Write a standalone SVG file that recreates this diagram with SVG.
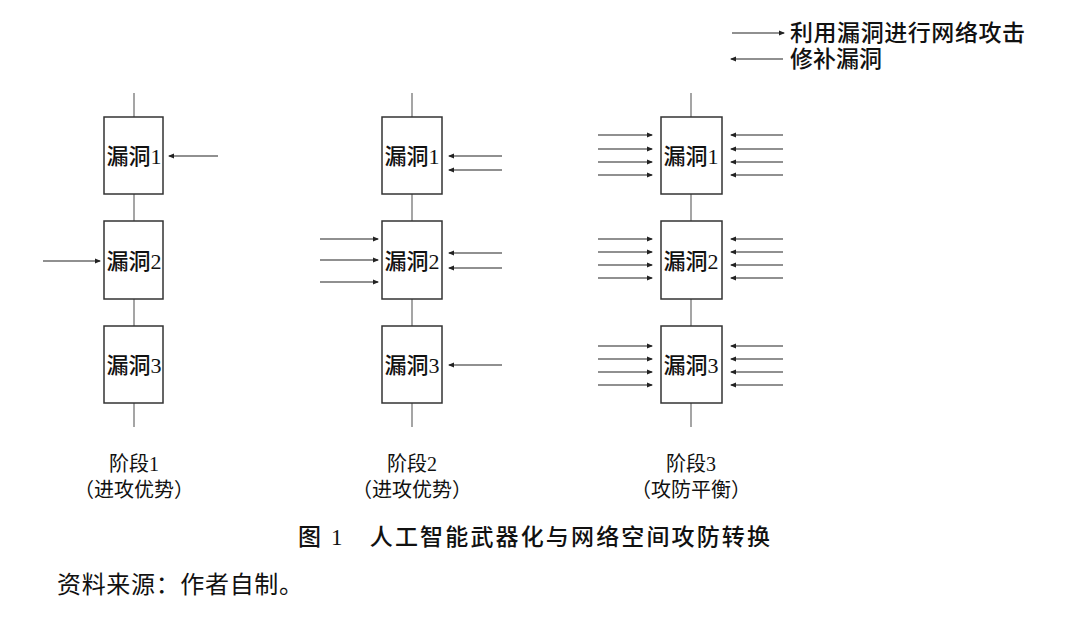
<svg xmlns="http://www.w3.org/2000/svg" width="1080" height="618" viewBox="0 0 1080 618">
<style>
text{font-family:"Liberation Serif","Noto Sans CJK SC",serif;fill:#111}
.box{fill:#fff;stroke:#333;stroke-width:1.5}
.v{stroke:#888;stroke-width:1.5}
.a{stroke:#222;stroke-width:1.2;marker-end:url(#ah)}
.bl{font-size:22px;text-anchor:middle;font-weight:500}
.st{font-size:20px;text-anchor:middle}
</style>
<defs><marker id="ah" markerWidth="6" markerHeight="6" refX="5" refY="3" orient="auto" markerUnits="userSpaceOnUse"><path d="M0,0.5 L6,3 L0,5.5z" fill="#222"/></marker></defs>
<rect width="1080" height="618" fill="#fff"/>
<g id="lines">
<path class="v" d="M134,93V117M134,194V221M134,299V326M134,403V427M412,93V117M412,194V221M412,299V326M412,403V427M691,93V117M691,194V221M691,299V326M691,403V427"/>
</g>
<g id="s1b1"><rect class="box" x="104" y="117" width="59" height="77"/><text class="bl" x="134" y="164">漏洞1</text></g>
<g id="s1b2"><rect class="box" x="104" y="221" width="59" height="78"/><text class="bl" x="134" y="269">漏洞2</text></g>
<g id="s1b3"><rect class="box" x="104" y="326" width="59" height="77"/><text class="bl" x="134" y="373">漏洞3</text></g>
<g id="s2b1"><rect class="box" x="382" y="117" width="60" height="77"/><text class="bl" x="412" y="164">漏洞1</text></g>
<g id="s2b2"><rect class="box" x="382" y="221" width="60" height="78"/><text class="bl" x="412" y="269">漏洞2</text></g>
<g id="s2b3"><rect class="box" x="382" y="326" width="60" height="77"/><text class="bl" x="412" y="373">漏洞3</text></g>
<g id="s3b1"><rect class="box" x="661" y="117" width="61" height="77"/><text class="bl" x="691" y="164">漏洞1</text></g>
<g id="s3b2"><rect class="box" x="661" y="221" width="61" height="78"/><text class="bl" x="691" y="269">漏洞2</text></g>
<g id="s3b3"><rect class="box" x="661" y="326" width="61" height="77"/><text class="bl" x="691" y="373">漏洞3</text></g>
<g id="connectors">
<line class="a" x1="218" y1="156" x2="169" y2="156"/>
<line class="a" x1="43" y1="261" x2="100" y2="261"/>
<line class="a" x1="502" y1="156" x2="449" y2="156"/>
<line class="a" x1="502" y1="170" x2="449" y2="170"/>
<line class="a" x1="320" y1="239" x2="378" y2="239"/>
<line class="a" x1="320" y1="260" x2="378" y2="260"/>
<line class="a" x1="320" y1="282" x2="378" y2="282"/>
<line class="a" x1="502" y1="253" x2="449" y2="253"/>
<line class="a" x1="502" y1="268" x2="449" y2="268"/>
<line class="a" x1="502" y1="365" x2="449" y2="365"/>
<line class="a" x1="598" y1="135" x2="652" y2="135"/>
<line class="a" x1="598" y1="149" x2="652" y2="149"/>
<line class="a" x1="598" y1="162" x2="652" y2="162"/>
<line class="a" x1="598" y1="175" x2="652" y2="175"/>
<line class="a" x1="598" y1="239" x2="652" y2="239"/>
<line class="a" x1="598" y1="252" x2="652" y2="252"/>
<line class="a" x1="598" y1="265" x2="652" y2="265"/>
<line class="a" x1="598" y1="278" x2="652" y2="278"/>
<line class="a" x1="598" y1="346" x2="652" y2="346"/>
<line class="a" x1="598" y1="359" x2="652" y2="359"/>
<line class="a" x1="598" y1="372" x2="652" y2="372"/>
<line class="a" x1="598" y1="385" x2="652" y2="385"/>
<line class="a" x1="783" y1="135" x2="731" y2="135"/>
<line class="a" x1="783" y1="149" x2="731" y2="149"/>
<line class="a" x1="783" y1="162" x2="731" y2="162"/>
<line class="a" x1="783" y1="175" x2="731" y2="175"/>
<line class="a" x1="783" y1="239" x2="731" y2="239"/>
<line class="a" x1="783" y1="252" x2="731" y2="252"/>
<line class="a" x1="783" y1="265" x2="731" y2="265"/>
<line class="a" x1="783" y1="278" x2="731" y2="278"/>
<line class="a" x1="783" y1="346" x2="731" y2="346"/>
<line class="a" x1="783" y1="359" x2="731" y2="359"/>
<line class="a" x1="783" y1="372" x2="731" y2="372"/>
<line class="a" x1="783" y1="385" x2="731" y2="385"/>
<line class="a" x1="732" y1="33" x2="784" y2="33"/>
<line class="a" x1="783" y1="59" x2="731" y2="59"/>
</g>
<text x="790" y="41" font-size="23" font-weight="500" textLength="235">利用漏洞进行网络攻击</text>
<text x="790" y="67" font-size="23" font-weight="500">修补漏洞</text>
<text class="st" x="134" y="471">阶段1</text><text class="st" x="134" y="497">（进攻优势）</text>
<text class="st" x="412" y="471">阶段2</text><text class="st" x="412" y="497">（进攻优势）</text>
<text class="st" x="691" y="471">阶段3</text><text class="st" x="691" y="497">（攻防平衡）</text>
<text x="298" y="545" font-size="23" font-weight="500" textLength="472">图 1　人工智能武器化与网络空间攻防转换</text>
<text x="57" y="593" font-size="24" textLength="246">资料来源：作者自制。</text>
</svg>
